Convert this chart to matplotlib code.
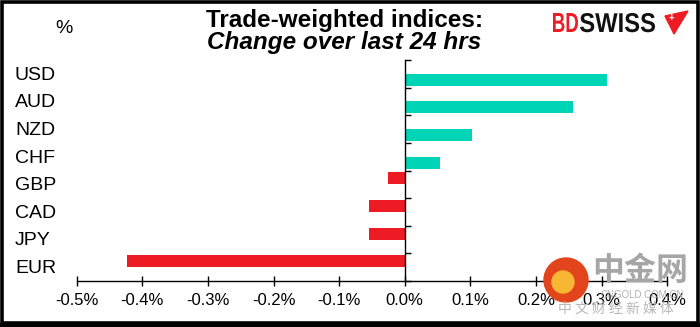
import matplotlib
matplotlib.use("Agg")
import matplotlib.pyplot as plt
import numpy as np
from matplotlib.font_manager import FontProperties
from matplotlib.patches import Rectangle, Polygon, Circle, PathPatch
from matplotlib.textpath import TextPath
from matplotlib.ticker import FuncFormatter
from matplotlib.transforms import Affine2D, blended_transform_factory

plt.rcParams["font.family"] = ["Liberation Sans", "DejaVu Sans"]

# Data: change over last 24 hrs (%), top to bottom
currencies = ["USD", "AUD", "NZD", "CHF", "GBP", "CAD", "JPY", "EUR"]
changes = [0.308, 0.256, 0.103, 0.054, -0.026, -0.054, -0.054, -0.423]
x_ticks = [-0.5, -0.4, -0.3, -0.2, -0.1, 0.0, 0.1, 0.2, 0.3, 0.4]

TEAL = "#00D4B6"
RED = "#ED1C24"
W, H = 700, 327


def px(x, y):
    """Pixel position (top-left origin) -> inches for fig.dpi_scale_trans."""
    return x / 100, (H - y) / 100


def boxed_text(fig, s, x0, x1, y_top, y_base, color):
    """Draw bold text stretched to fill a pixel box (for the logo)."""
    tp = TextPath((0, 0), s, size=1, prop=FontProperties(family="Liberation Sans", weight="bold"))
    ext = tp.get_extents()
    sx = (x1 - x0) / 100 / ext.width
    sy = (y_base - y_top) / 100 / ext.y1
    bx, by = px(x0, y_base)
    tr = Affine2D().translate(-ext.x0, 0).scale(sx, sy).translate(bx, by) + fig.dpi_scale_trans
    fig.patches.append(PathPatch(tp, transform=tr, color=color, lw=0))


fig = plt.figure(figsize=(W / 100, H / 100), dpi=100)
ax = fig.add_axes([76.7 / W, (H - 281) / H, 590.6 / W, 221 / H])

vals = np.array(changes)
ypos = np.arange(len(currencies))
pos = vals > 0
bar_h = 0.435
ax.barh(ypos[pos] + bar_h / 2, vals[pos], height=bar_h, color=TEAL)
ax.barh(ypos[~pos] - bar_h / 2, vals[~pos], height=bar_h, color=RED)

ax.set_xlim(x_ticks[0], x_ticks[-1])
ax.set_ylim(len(currencies) - 0.5, -0.5)

for s in ["top", "right"]:
    ax.spines[s].set_visible(False)
ax.spines["left"].set_position(("data", 0))
ax.spines["left"].set_linewidth(1.0)
ax.spines["bottom"].set_linewidth(1.0)

ax.set_xticks(x_ticks)
ax.xaxis.set_major_formatter(FuncFormatter(lambda v, _: f"{v:.1f}%"))
ax.tick_params(axis="x", direction="inout", length=7, width=1, pad=5, labelsize=12)
ax.set_yticks(np.arange(-0.5, len(currencies), 1.0))
ax.set_yticklabels([])
ax.tick_params(axis="y", direction="in", length=4.5, width=1)

# category labels, left-aligned near the figure edge
lab_tr = blended_transform_factory(fig.transFigure, ax.transData)
for i, c in enumerate(currencies):
    ax.text(15 / W, i + 0.05, c, transform=lab_tr, ha="left", va="center", fontsize=14)

# titles
t = fig.dpi_scale_trans
fig.text(*px(344.5, 27), "Trade-weighted indices:", transform=t, ha="center", va="baseline",
         fontsize=17.5, fontweight="bold")
fig.text(*px(344.5, 49), "Change over last 24 hrs", transform=t, ha="center", va="baseline",
         fontsize=17.5, fontweight="bold", fontstyle="italic")
fig.text(*px(64, 33), "%", transform=t, ha="center", va="baseline", fontsize=14)

# BDSWISS logo
boxed_text(fig, "BD", 553, 578, 13, 32, RED)
boxed_text(fig, "SWISS", 580, 655, 13, 32, "#111111")
fig.patches.append(Polygon([px(665, 16), px(688, 11), px(674, 34)], closed=True,
                           transform=t, color=RED))
fig.text(*px(671, 18.5), "+", transform=t, ha="center", va="center", fontsize=7,
         fontweight="bold", color="white")

# watermark
fig.patches.append(Circle(px(566, 280), 0.22, transform=t, color="#E2451C", zorder=5))
fig.patches.append(Circle(px(563, 282), 0.11, transform=t, color="#F7B733", zorder=6))
cjk = ["Noto Sans CJK SC", "DejaVu Sans"]
fig.text(*px(640, 271), "中金网", transform=t, ha="center", va="center", fontsize=23,
         fontweight="bold", color="#A6A6A6", family=cjk, zorder=6)
fig.text(*px(642, 295), "CNGOLD.COM.CN", transform=t, ha="center", va="center", fontsize=7,
         color="#B0B0B0", zorder=6)
fig.text(*px(616, 309), "中 文 财 经 新 媒 体", transform=t, ha="center", va="center", fontsize=10,
         color="#B8B8B8", family=cjk, zorder=6)

# outer frame
fig.patches.append(Rectangle((1.5 / W, 4 / H), 1 - 3.5 / W, 1 - 5.5 / H, transform=fig.transFigure,
                             fill=False, ec="black", lw=2.6))
fig.patches.append(Rectangle((0, 0), 1, 4.5 / H, transform=fig.transFigure, color="black"))

fig.savefig("out.png", dpi=100)
